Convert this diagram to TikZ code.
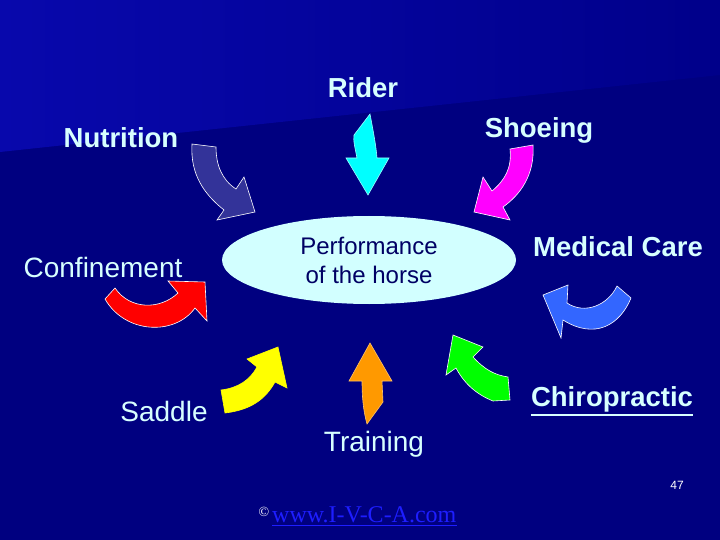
\documentclass[tikz,border=0pt]{standalone}
\usepackage{fontspec}
\setmainfont{Liberation Sans}
\newfontfamily\serifweb{Liberation Serif}
\usetikzlibrary{shapes.geometric}
\definecolor{bgdark}{RGB}{0,0,128}
\definecolor{bglight}{RGB}{8,8,172}
\definecolor{bgmid}{RGB}{0,0,138}
\definecolor{txt}{RGB}{215,255,255}
\definecolor{ellfill}{RGB}{210,255,255}
\definecolor{elltxt}{RGB}{0,0,100}
\definecolor{nutri}{RGB}{51,51,153}
\definecolor{medic}{RGB}{51,102,255}
\definecolor{orng}{RGB}{255,153,0}
\definecolor{cyanarrow}{RGB}{0,255,255}
\definecolor{magarrow}{RGB}{255,0,255}
\definecolor{greenarrow}{RGB}{0,255,0}
\definecolor{redarrow}{RGB}{255,0,0}
\definecolor{yelarrow}{RGB}{255,255,0}
\definecolor{web}{RGB}{30,30,255}
\tikzset{
  lbl/.style={text=txt,font=\fontsize{28}{32}\selectfont,inner sep=0pt},
  blbl/.style={text=txt,font=\fontsize{27.5}{32}\selectfont\bfseries,inner sep=0pt},
  blockarrow/.style={draw=white,line width=0.6pt,line join=miter},
}
\begin{document}
\begin{tikzpicture}[x=1pt,y=-1pt]
\useasboundingbox (0,0) rectangle (720,540);
% background
\fill[bgdark] (0,0) rectangle (720,540);
\shade[left color=bglight,right color=bgmid] (0,0) -- (720,0) -- (720,75) -- (0,152) -- cycle;
% labels
\node[blbl] (rider) at (363,88) {Rider};
\node[blbl] (nutrition) at (121,138) {Nutrition};
\node[blbl] (shoeing) at (539,130) {Shoeing};
\node[lbl] (confinement) at (103,267) {Confinement};
\node[blbl] (medical) at (618,247) {Medical Care};
\node[blbl] (chiro) at (612,399) {Chiropractic};
\draw[txt,line width=1.2pt] ([yshift=-3pt]chiro.south west) -- ([yshift=-3pt]chiro.south east);
\node[lbl] (saddle) at (164,411) {Saddle};
\node[lbl] (training) at (374,444) {Training};
% central ellipse
\node[ellipse,fill=ellfill,minimum width=294pt,minimum height=88pt,inner sep=0pt,
      text=elltxt,font=\fontsize{24}{29}\selectfont,align=center] (perf) at (369,260)
      {Performance\\of the horse};
% curved block arrows
\filldraw[blockarrow,fill=nutri] (192,144) -- (216,147) .. controls (216,165) and (222,180) .. (236,189)
  -- (244,177) -- (255,212) -- (217,220) -- (224,210) .. controls (205,195) and (190,175) .. (192,144) -- cycle;
\filldraw[blockarrow,fill=cyanarrow,draw=cyanarrow!40!white] (370,114) .. controls (373,130) and (376,145) .. (377,158)
  -- (389,158) -- (368,195) -- (346,158) -- (357,158) .. controls (355,148) and (353,140) .. (354,135) -- cycle;
\filldraw[blockarrow,fill=magarrow] (510,149) -- (533,145) .. controls (535,175) and (520,195) .. (503,207)
  -- (510,220) -- (474,212) -- (483,177) -- (492,191) .. controls (505,180) and (512,168) .. (510,149) -- cycle;
\filldraw[blockarrow,fill=medic] (543,295) -- (568,285) -- (567,303) .. controls (585,315) and (608,305) .. (617,286)
  -- (631,298) .. controls (620,325) and (595,340) .. (563,320) -- (561,338) -- cycle;
\filldraw[blockarrow,fill=greenarrow] (453,335) -- (483,347) -- (473,357) .. controls (485,370) and (495,375) .. (508,377)
  -- (510,400) -- (493,401) .. controls (478,395) and (465,385) .. (456,368) -- (446,375) -- cycle;
\filldraw[blockarrow,fill=orng,draw=orng!60!white] (370,343) -- (392,381) -- (382,381) -- (383,402) -- (367,424)
  .. controls (363,410) and (362,395) .. (362,381) -- (349,381) -- cycle;
\filldraw[blockarrow,fill=yelarrow,draw=yelarrow] (278,347) -- (287,388) -- (275,382) .. controls (265,400) and (250,410) .. (225,413)
  -- (221,390) .. controls (238,388) and (250,380) .. (257,367) -- (247,359) -- cycle;
\filldraw[blockarrow,fill=redarrow] (115,288) .. controls (130,310) and (160,310) .. (178,293) -- (168,281) -- (205,282)
  -- (207,321) -- (195,308) .. controls (175,336) and (125,334) .. (105,299) -- cycle;
% footer
\node[text=white,font=\fontsize{12}{14}\selectfont,inner sep=0pt] (page) at (677,485) {47};
\node[text=white,font=\serifweb\fontsize{14}{16}\selectfont,inner sep=0pt] (copy) at (264,512) {©};
\node[text=web,font=\serifweb\fontsize{24}{28}\selectfont,inner sep=0pt,anchor=west] (url) at (272,515) {www.I-V-C-A.com};
\draw[web,line width=1pt] ([yshift=-2pt]url.south west) -- ([yshift=-2pt]url.south east);
\end{tikzpicture}
\end{document}
